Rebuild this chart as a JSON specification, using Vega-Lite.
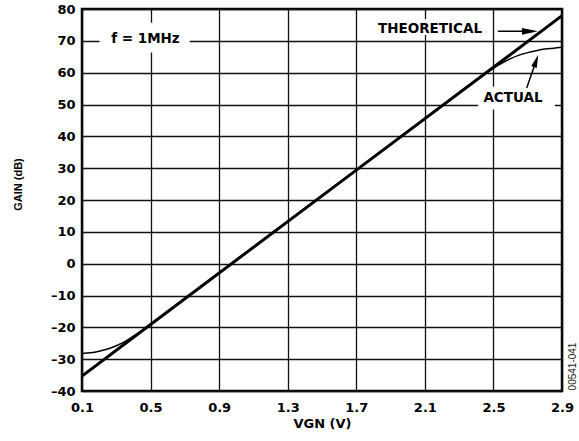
{
  "$schema": "https://vega.github.io/schema/vega-lite/v6.json",
  "width": 480,
  "height": 382,
  "autosize": "none",
  "padding": {"left": 82, "top": 9, "right": 17, "bottom": 50},
  "background": "white",
  "config": {
    "view": {"stroke": "black", "strokeWidth": 2.5},
    "axis": {
      "grid": true,
      "gridColor": "#111",
      "gridWidth": 1.3,
      "gridOpacity": 1,
      "ticks": false,
      "domain": false,
      "labelFont": "DejaVu Sans",
      "labelFontWeight": "bold",
      "labelFontSize": 13,
      "labelColor": "black",
      "labelFlush": false,
      "labelOverlap": false,
      "labelBound": false,
      "titleColor": "black",
      "titleFontWeight": "bold"
    }
  },
  "datasets": {
    "curves": [
      {"vgn": 0.1, "gain": -35.3, "series": "THEORETICAL"},
      {"vgn": 0.5, "gain": -19.1, "series": "THEORETICAL"},
      {"vgn": 1.7, "gain": 29.4, "series": "THEORETICAL"},
      {"vgn": 2.5, "gain": 61.7, "series": "THEORETICAL"},
      {"vgn": 2.9, "gain": 77.9, "series": "THEORETICAL"},
      {"vgn": 0.1, "gain": -28.2, "series": "ACTUAL"},
      {"vgn": 0.15, "gain": -28.0, "series": "ACTUAL"},
      {"vgn": 0.2, "gain": -27.5, "series": "ACTUAL"},
      {"vgn": 0.25, "gain": -26.8, "series": "ACTUAL"},
      {"vgn": 0.3, "gain": -25.8, "series": "ACTUAL"},
      {"vgn": 0.35, "gain": -24.5, "series": "ACTUAL"},
      {"vgn": 0.4, "gain": -22.8, "series": "ACTUAL"},
      {"vgn": 0.45, "gain": -21.0, "series": "ACTUAL"},
      {"vgn": 0.5, "gain": -19.1, "series": "ACTUAL"},
      {"vgn": 0.6, "gain": -15.1, "series": "ACTUAL"},
      {"vgn": 1.0, "gain": 1.1, "series": "ACTUAL"},
      {"vgn": 2.0, "gain": 41.5, "series": "ACTUAL"},
      {"vgn": 2.4, "gain": 57.6, "series": "ACTUAL"},
      {"vgn": 2.5, "gain": 61.4, "series": "ACTUAL"},
      {"vgn": 2.55, "gain": 63.0, "series": "ACTUAL"},
      {"vgn": 2.6, "gain": 64.4, "series": "ACTUAL"},
      {"vgn": 2.65, "gain": 65.5, "series": "ACTUAL"},
      {"vgn": 2.7, "gain": 66.3, "series": "ACTUAL"},
      {"vgn": 2.75, "gain": 66.9, "series": "ACTUAL"},
      {"vgn": 2.8, "gain": 67.4, "series": "ACTUAL"},
      {"vgn": 2.85, "gain": 67.7, "series": "ACTUAL"},
      {"vgn": 2.9, "gain": 68.0, "series": "ACTUAL"}
    ],
    "boxes": [
      {"vgn": 0.202, "vgn2": 0.728, "gain": 66.3, "gain2": 75.7},
      {"vgn": 1.767, "vgn2": 2.491, "gain": 71.8, "gain2": 76.8},
      {"vgn": 2.41, "vgn2": 2.859, "gain": 48.4, "gain2": 55.6}
    ],
    "notes": [
      {"vgn": 0.47, "gain": 70.6, "label": "f = 1MHz"},
      {"vgn": 2.13, "gain": 73.8, "label": "THEORETICAL"},
      {"vgn": 2.614, "gain": 52.1, "label": "ACTUAL"}
    ],
    "arrows": [
      {"name": "THEORETICAL", "vgn": 2.526, "gain": 73.0, "vgn2": 2.713, "gain2": 73.0},
      {"name": "ACTUAL", "vgn": 2.694, "gain": 55.2, "vgn2": 2.749, "gain2": 63.7}
    ],
    "heads": [
      {"name": "THEORETICAL", "vgn": 2.713, "gain": 73.0},
      {"name": "ACTUAL", "vgn": 2.749, "gain": 63.7}
    ],
    "code": [
      {"vgn": 2.964, "gain": -32.3, "label": "00541-041"}
    ]
  },
  "encoding": {
    "x": {
      "field": "vgn", "type": "quantitative",
      "scale": {"domain": [0.1, 2.9], "nice": false, "zero": false},
      "axis": {
        "values": [0.1, 0.5, 0.9, 1.3, 1.7, 2.1, 2.5, 2.9],
        "format": ".1f",
        "labelPadding": 10,
        "title": "VGN (V)",
        "titleFont": "DejaVu Sans",
        "titleFontSize": 13,
        "titlePadding": 3
      }
    },
    "y": {
      "field": "gain", "type": "quantitative",
      "scale": {"domain": [-40, 80], "nice": false, "zero": false},
      "axis": {
        "values": [-40, -30, -20, -10, 0, 10, 20, 30, 40, 50, 60, 70, 80],
        "labelExpr": "datum.value < 0 ? '–' + abs(datum.value) : datum.label",
        "labelPadding": 7,
        "title": "GAIN (dB)",
        "titleFont": "Liberation Sans",
        "titleFontSize": 11,
        "titleAngle": -90,
        "titleX": -64,
        "titleY": 175,
        "titleAlign": "center",
        "titleBaseline": "middle"
      }
    }
  },
  "layer": [
    {
      "data": {"name": "boxes"},
      "mark": {"type": "rect", "fill": "white", "stroke": null},
      "encoding": {
        "x2": {"field": "vgn2"},
        "y2": {"field": "gain2"}
      }
    },
    {
      "data": {"name": "curves"},
      "transform": [{"filter": "datum.series === 'THEORETICAL'"}],
      "mark": {"type": "line", "color": "black", "strokeWidth": 3, "clip": true}
    },
    {
      "data": {"name": "curves"},
      "transform": [{"filter": "datum.series === 'ACTUAL'"}],
      "mark": {"type": "line", "color": "black", "strokeWidth": 1.5, "interpolate": "monotone", "clip": true}
    },
    {
      "data": {"name": "notes"},
      "mark": {"type": "text", "font": "DejaVu Sans", "fontWeight": "bold", "fontSize": 13.5, "color": "black", "align": "center", "baseline": "middle"},
      "encoding": {
        "text": {"field": "label"}
      }
    },
    {
      "data": {"name": "arrows"},
      "mark": {"type": "rule", "color": "black", "strokeWidth": 1.5},
      "encoding": {
        "x2": {"field": "vgn2"},
        "y2": {"field": "gain2"}
      }
    },
    {
      "data": {"name": "heads"},
      "transform": [{"filter": "datum.name === 'THEORETICAL'"}],
      "mark": {"type": "point", "shape": "M-1,-0.42L1,0L-1,0.42Z", "size": 256, "filled": true, "color": "black", "opacity": 1}
    },
    {
      "data": {"name": "heads"},
      "transform": [{"filter": "datum.name === 'ACTUAL'"}],
      "mark": {"type": "point", "shape": "M-0.45,1L0,-1L0.45,1Z", "size": 169, "angle": 19, "filled": true, "color": "black", "opacity": 1}
    },
    {
      "data": {"name": "code"},
      "mark": {"type": "text", "font": "Liberation Sans", "fontSize": 10, "color": "#222", "angle": 270, "align": "center", "baseline": "middle", "clip": false},
      "encoding": {
        "text": {"field": "label"}
      }
    }
  ]
}
